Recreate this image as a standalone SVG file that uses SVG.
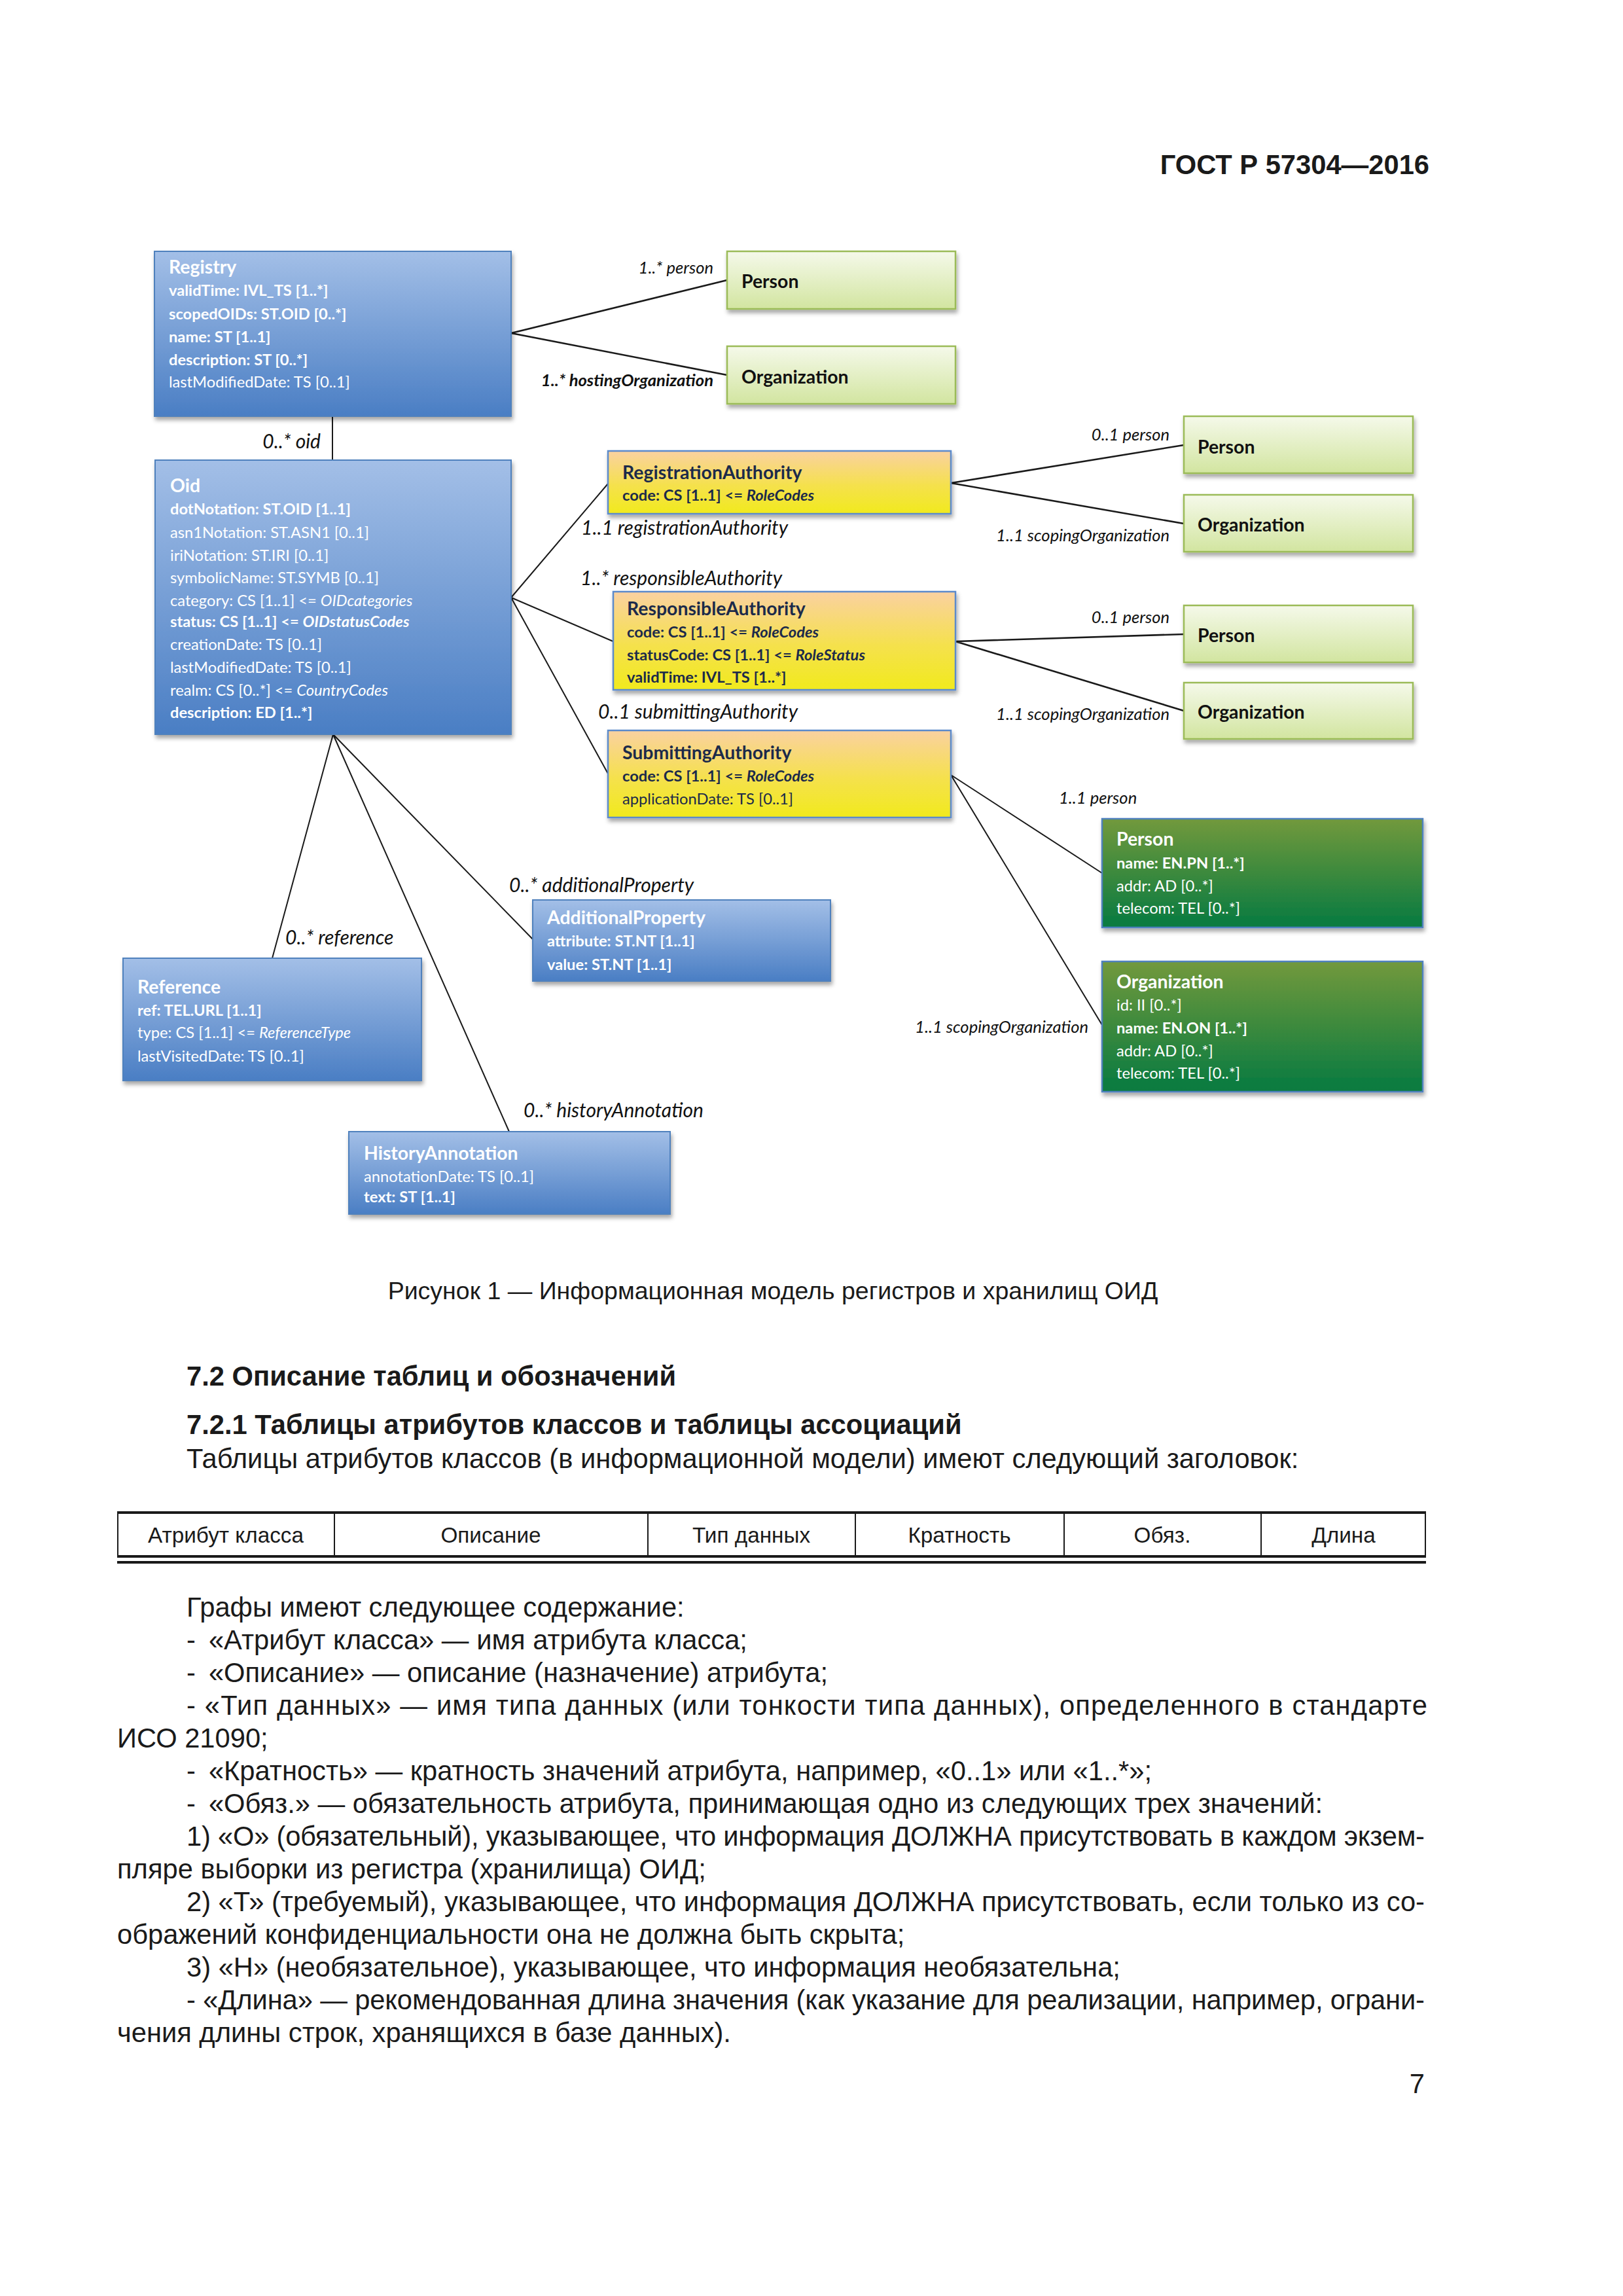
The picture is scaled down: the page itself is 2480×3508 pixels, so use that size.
<svg xmlns="http://www.w3.org/2000/svg" width="2480" height="3508" viewBox="0 0 2480 3508">
<defs>
<linearGradient id="gBlue" x1="0" y1="0" x2="0" y2="1"><stop offset="0" stop-color="#A3BFE7"/><stop offset="1" stop-color="#4A7EC4"/></linearGradient>
<linearGradient id="gYel" x1="0" y1="0" x2="0" y2="1"><stop offset="0" stop-color="#FAD1A1"/><stop offset="0.55" stop-color="#F5E14C"/><stop offset="1" stop-color="#F1EA1D"/></linearGradient>
<linearGradient id="gLG" x1="0" y1="0" x2="0" y2="1"><stop offset="0" stop-color="#F5F9EA"/><stop offset="1" stop-color="#D2E5A0"/></linearGradient>
<linearGradient id="gDG" x1="0" y1="0" x2="0" y2="1"><stop offset="0" stop-color="#72993C"/><stop offset="1" stop-color="#067A40"/></linearGradient>
<filter id="sh" x="-5%" y="-5%" width="115%" height="125%"><feDropShadow dx="2" dy="5" stdDeviation="3" flood-color="#000" flood-opacity="0.35"/></filter>
<style>
.bb{fill:url(#gBlue);stroke:#4F81BD;stroke-width:2;filter:url(#sh)}
.by{fill:url(#gYel);stroke:#5B8ACB;stroke-width:2.5;filter:url(#sh)}
.bl{fill:url(#gLG);stroke:#9BBB59;stroke-width:2.5;filter:url(#sh)}
.bd{fill:url(#gDG);stroke:#4F81BD;stroke-width:2.5;filter:url(#sh)}
.tt{font-family:Lato,"Open Sans",sans-serif;font-weight:700;font-size:28.4px}
.ta{font-family:Lato,"Open Sans",sans-serif;font-size:23.7px}
.w{fill:#fff}
.n{fill:#1C2A4A}
.k{fill:#111}
.b{font-weight:700}
.i{font-style:italic}
.lb{font-family:Lato,"Open Sans",sans-serif;font-style:italic;font-size:30px;fill:#111}
.ls{font-size:25.6px}
.c{stroke:#1a1a1a;stroke-width:2;fill:none}
.c2{stroke:#1a1a1a;stroke-width:2.6;fill:none}
.d{font-family:"Liberation Sans",Arial,sans-serif;fill:#1a1a1a;font-size:41.7px}
.cap{font-size:37.5px}
.th{font-family:"Liberation Sans",Arial,sans-serif;fill:#1a1a1a;font-size:33.3px}
.tl{stroke:#1a1a1a;stroke-width:2;fill:none}
.tk{stroke:#1a1a1a;stroke-width:4;fill:none}
</style>
</defs>
<rect width="2480" height="3508" fill="#fff"/>

<text class="d" x="2184" y="266" text-anchor="end" font-weight="700">ГОСТ Р 57304—2016</text>

<g id="connectors">
<path class="c2" d="M781 509 L1111 428 M781 509 L1111 573"/>
<path class="c" d="M508 636 L508 703"/>
<path class="c" d="M781 913 L929 739 M781 913 L937 980 M781 913 L929 1182"/>
<path class="c" d="M509 1122 L416 1464 M509 1122 L815 1436 M509 1122 L778 1729"/>
<path class="c2" d="M1453 738 L1809 680 M1453 738 L1809 800"/>
<path class="c2" d="M1460 980 L1809 969 M1460 980 L1809 1086"/>
<path class="c" d="M1453 1184 L1684 1334 M1453 1184 L1684 1566"/>
<text class="lb ls" x="1090" y="418" text-anchor="end">1..* person</text>
<text class="lb ls" x="1090" y="590" text-anchor="end" font-weight="700">1..* hostingOrganization</text>
<text class="lb" x="490" y="685" text-anchor="end">0..* oid</text>
<text class="lb" x="888" y="817">1..1 registrationAuthority</text>
<text class="lb" x="887" y="894">1..* responsibleAuthority</text>
<text class="lb" x="914" y="1098">0..1 submittingAuthority</text>
<text class="lb ls" x="1787" y="673" text-anchor="end">0..1 person</text>
<text class="lb ls" x="1787" y="827" text-anchor="end">1..1 scopingOrganization</text>
<text class="lb ls" x="1787" y="952" text-anchor="end">0..1 person</text>
<text class="lb ls" x="1787" y="1100" text-anchor="end">1..1 scopingOrganization</text>
<text class="lb ls" x="1618" y="1228">1..1 person</text>
<text class="lb ls" x="1663" y="1578" text-anchor="end">1..1 scopingOrganization</text>
<text class="lb" x="778" y="1363">0..* additionalProperty</text>
<text class="lb" x="436" y="1443">0..* reference</text>
<text class="lb" x="800" y="1707">0..* historyAnnotation</text>
</g>

<g id="registry">
<rect class="bb" x="236" y="384" width="545" height="252"/>
<text class="tt w" x="258" y="418">Registry</text>
<text class="ta w b" x="258" y="452">validTime: IVL_TS [1..*]</text>
<text class="ta w b" x="258" y="488">scopedOIDs: ST.OID [0..*]</text>
<text class="ta w b" x="258" y="523">name: ST [1..1]</text>
<text class="ta w b" x="258" y="558">description: ST [0..*]</text>
<text class="ta w" x="258" y="592">lastModifiedDate: TS [0..1]</text>
</g>

<g id="person1">
<rect class="bl" x="1111" y="384" width="349" height="88"/>
<text class="tt k" x="1133" y="440">Person</text>
</g>
<g id="organization1">
<rect class="bl" x="1111" y="529" width="349" height="88"/>
<text class="tt k" x="1133" y="586">Organization</text>
</g>

<g id="oid">
<rect class="bb" x="237" y="703" width="544" height="419"/>
<text class="tt w" x="260" y="752">Oid</text>
<text class="ta w b" x="260" y="786">dotNotation: ST.OID [1..1]</text>
<text class="ta w" x="260" y="822">asn1Notation: ST.ASN1 [0..1]</text>
<text class="ta w" x="260" y="857">iriNotation: ST.IRI [0..1]</text>
<text class="ta w" x="260" y="891">symbolicName: ST.SYMB [0..1]</text>
<text class="ta w" x="260" y="926">category: CS [1..1] &lt;= <tspan class="i">OIDcategories</tspan></text>
<text class="ta w b" x="260" y="958">status: CS [1..1] &lt;= <tspan class="i">OIDstatusCodes</tspan></text>
<text class="ta w" x="260" y="993">creationDate: TS [0..1]</text>
<text class="ta w" x="260" y="1028">lastModifiedDate: TS [0..1]</text>
<text class="ta w" x="260" y="1063">realm: CS [0..*] &lt;= <tspan class="i">CountryCodes</tspan></text>
<text class="ta w b" x="260" y="1097">description: ED [1..*]</text>
</g>

<g id="registrationAuthority">
<rect class="by" x="929" y="689" width="524" height="96"/>
<text class="tt n" x="951" y="732">RegistrationAuthority</text>
<text class="ta n b" x="951" y="765">code: CS [1..1] &lt;= <tspan class="i">RoleCodes</tspan></text>
</g>

<g id="responsibleAuthority">
<rect class="by" x="937" y="904" width="523" height="150"/>
<text class="tt n" x="958" y="940">ResponsibleAuthority</text>
<text class="ta n b" x="958" y="974">code: CS [1..1] &lt;= <tspan class="i">RoleCodes</tspan></text>
<text class="ta n b" x="958" y="1009">statusCode: CS [1..1] &lt;= <tspan class="i">RoleStatus</tspan></text>
<text class="ta n b" x="958" y="1043">validTime: IVL_TS [1..*]</text>
</g>

<g id="submittingAuthority">
<rect class="by" x="929" y="1116" width="524" height="133"/>
<text class="tt n" x="951" y="1160">SubmittingAuthority</text>
<text class="ta n b" x="951" y="1194">code: CS [1..1] &lt;= <tspan class="i">RoleCodes</tspan></text>
<text class="ta n" x="951" y="1229">applicationDate: TS [0..1]</text>
</g>

<g id="person2">
<rect class="bl" x="1809" y="636" width="350" height="87"/>
<text class="tt k" x="1830" y="693">Person</text>
</g>
<g id="organization2">
<rect class="bl" x="1809" y="756" width="350" height="87"/>
<text class="tt k" x="1830" y="812">Organization</text>
</g>
<g id="person3">
<rect class="bl" x="1809" y="925" width="350" height="87"/>
<text class="tt k" x="1830" y="981">Person</text>
</g>
<g id="organization3">
<rect class="bl" x="1809" y="1043" width="350" height="86"/>
<text class="tt k" x="1830" y="1098">Organization</text>
</g>

<g id="personFull">
<rect class="bd" x="1684" y="1251" width="490" height="166"/>
<text class="tt w" x="1706" y="1292">Person</text>
<text class="ta w b" x="1706" y="1327">name: EN.PN [1..*]</text>
<text class="ta w" x="1706" y="1362">addr: AD [0..*]</text>
<text class="ta w" x="1706" y="1396">telecom: TEL [0..*]</text>
</g>

<g id="organizationFull">
<rect class="bd" x="1684" y="1469" width="490" height="199"/>
<text class="tt w" x="1706" y="1510">Organization</text>
<text class="ta w" x="1706" y="1544">id: II [0..*]</text>
<text class="ta w b" x="1706" y="1579">name: EN.ON [1..*]</text>
<text class="ta w" x="1706" y="1614">addr: AD [0..*]</text>
<text class="ta w" x="1706" y="1648">telecom: TEL [0..*]</text>
</g>

<g id="reference">
<rect class="bb" x="188" y="1464" width="456" height="187"/>
<text class="tt w" x="210" y="1518">Reference</text>
<text class="ta w b" x="210" y="1552">ref: TEL.URL [1..1]</text>
<text class="ta w" x="210" y="1586">type: CS [1..1] &lt;= <tspan class="i">ReferenceType</tspan></text>
<text class="ta w" x="210" y="1622">lastVisitedDate: TS [0..1]</text>
</g>

<g id="additionalProperty">
<rect class="bb" x="814" y="1375" width="455" height="124"/>
<text class="tt w" x="836" y="1412">AdditionalProperty</text>
<text class="ta w b" x="836" y="1446">attribute: ST.NT [1..1]</text>
<text class="ta w b" x="836" y="1482">value: ST.NT [1..1]</text>
</g>

<g id="historyAnnotation">
<rect class="bb" x="533" y="1729" width="491" height="126"/>
<text class="tt w" x="556" y="1772">HistoryAnnotation</text>
<text class="ta w" x="556" y="1806">annotationDate: TS [0..1]</text>
<text class="ta w b" x="556" y="1837">text: ST [1..1]</text>
</g>

<text class="d cap" x="1181" y="1985" text-anchor="middle">Рисунок 1 — Информационная модель регистров и хранилищ ОИД</text>

<text class="d" x="285" y="2117" font-weight="700">7.2 Описание таблиц и обозначений</text>
<text class="d" x="285" y="2191" font-weight="700">7.2.1 Таблицы атрибутов классов и таблицы ассоциаций</text>
<text class="d" x="285" y="2243">Таблицы атрибутов классов (в информационной модели) имеют следующий заголовок:</text>

<g id="table">
<path class="tk" d="M179 2311 L2179 2311 M179 2378 L2179 2378 M179 2387 L2179 2387"/>
<path class="tl" d="M180 2311 L180 2378 M511 2311 L511 2378 M990 2311 L990 2378 M1307 2311 L1307 2378 M1626 2311 L1626 2378 M1927 2311 L1927 2378 M2178 2311 L2178 2378"/>
<text class="th" x="345" y="2357" text-anchor="middle">Атрибут класса</text>
<text class="th" x="750" y="2357" text-anchor="middle">Описание</text>
<text class="th" x="1148" y="2357" text-anchor="middle">Тип данных</text>
<text class="th" x="1466" y="2357" text-anchor="middle">Кратность</text>
<text class="th" x="1776" y="2357" text-anchor="middle">Обяз.</text>
<text class="th" x="2053" y="2357" text-anchor="middle">Длина</text>
</g>

<text class="d" x="285" y="2470">Графы имеют следующее содержание:</text>
<text class="d" x="285" y="2520">-<tspan dx="20">«Атрибут класса» — имя атрибута класса;</tspan></text>
<text class="d" x="285" y="2570">-<tspan dx="20">«Описание» — описание (назначение) атрибута;</tspan></text>
<text class="d" x="285" y="2620" textLength="1896" lengthAdjust="spacing">- «Тип данных» — имя типа данных (или тонкости типа данных), определенного в стандарте</text>
<text class="d" x="179" y="2670">ИСО 21090;</text>
<text class="d" x="285" y="2720">-<tspan dx="20">«Кратность» — кратность значений атрибута, например, «0..1» или «1..*»;</tspan></text>
<text class="d" x="285" y="2770">-<tspan dx="20">«Обяз.» — обязательность атрибута, принимающая одно из следующих трех значений:</tspan></text>
<text class="d" x="285" y="2820" textLength="1892" lengthAdjust="spacing">1) «О» (обязательный), указывающее, что информация ДОЛЖНА присутствовать в каждом экзем-</text>
<text class="d" x="179" y="2870">пляре выборки из регистра (хранилища) ОИД;</text>
<text class="d" x="285" y="2920" textLength="1892" lengthAdjust="spacing">2) «Т» (требуемый), указывающее, что информация ДОЛЖНА присутствовать, если только из со-</text>
<text class="d" x="179" y="2970">ображений конфиденциальности она не должна быть скрыта;</text>
<text class="d" x="285" y="3020">3) «Н» (необязательное), указывающее, что информация необязательна;</text>
<text class="d" x="285" y="3070" textLength="1892" lengthAdjust="spacing">- «Длина» — рекомендованная длина значения (как указание для реализации, например, ограни-</text>
<text class="d" x="179" y="3120">чения длины строк, хранящихся в базе данных).</text>
<text class="d" x="2177" y="3198" text-anchor="end">7</text>
</svg>
